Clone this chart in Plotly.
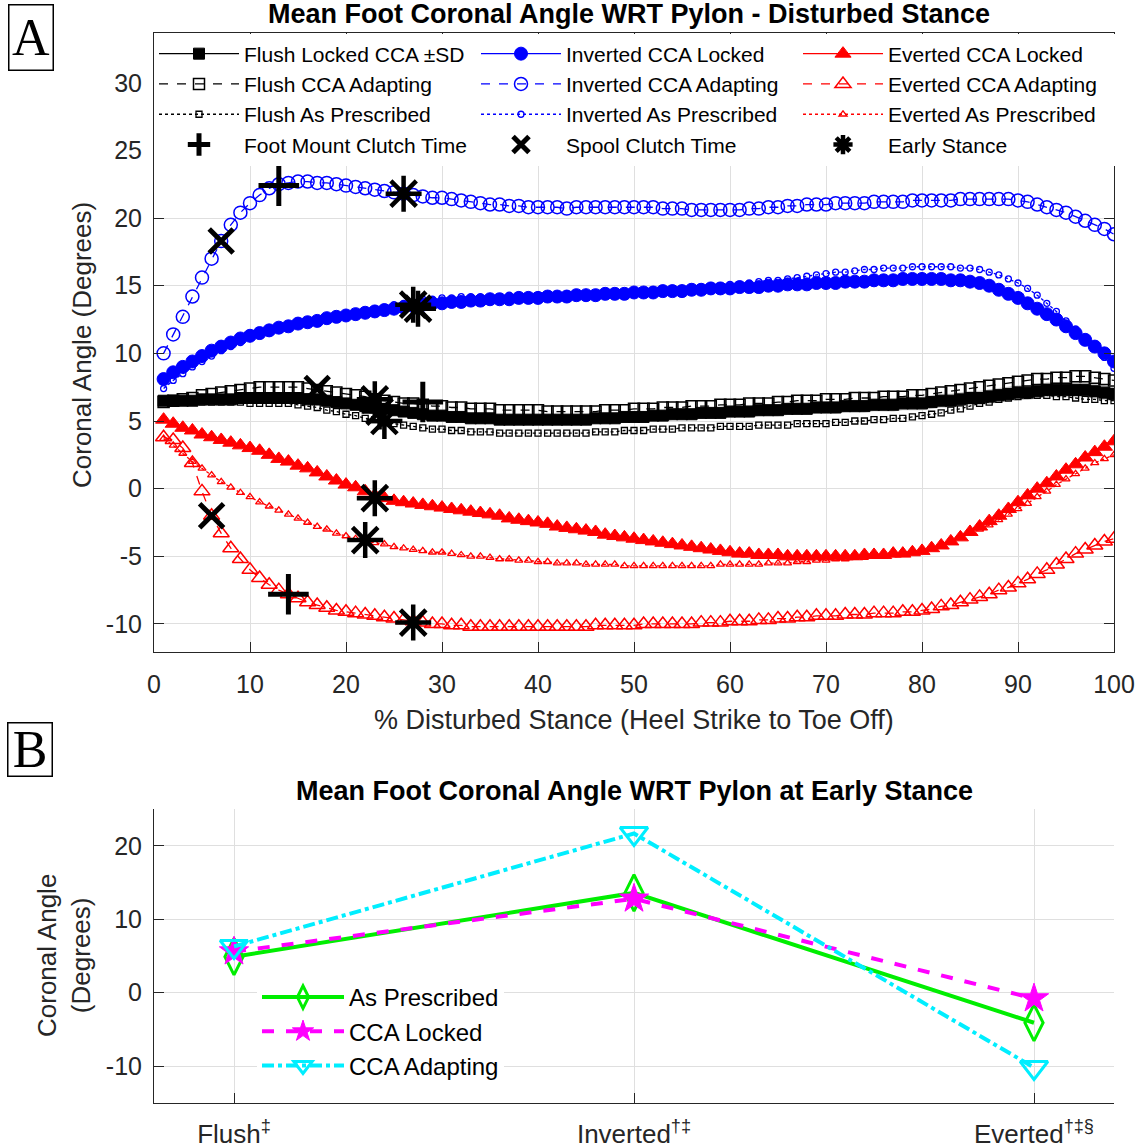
import plotly.graph_objects as go

# ---------------- DATA ----------------
pct_stance = list(range(1, 101))
x_ticks_a = [0, 10, 20, 30, 40, 50, 60, 70, 80, 90, 100]
y_ticks_a = [-10, -5, 0, 5, 10, 15, 20, 25, 30]

flush_locked = [
    6.5, 6.5, 6.5, 6.5, 6.6, 6.6, 6.6, 6.6, 6.7, 6.7,
    6.7, 6.7, 6.7, 6.7, 6.7, 6.6, 6.6, 6.5, 6.4, 6.3,
    6.2, 6.1, 6.0, 5.9, 5.8, 5.7, 5.6, 5.5, 5.4, 5.4,
    5.3, 5.3, 5.2, 5.2, 5.2, 5.1, 5.1, 5.1, 5.1, 5.1,
    5.1, 5.1, 5.1, 5.1, 5.1, 5.2, 5.2, 5.2, 5.3, 5.3,
    5.3, 5.4, 5.4, 5.5, 5.5, 5.5, 5.6, 5.6, 5.6, 5.7,
    5.7, 5.7, 5.8, 5.8, 5.8, 5.9, 5.9, 5.9, 6.0, 6.0,
    6.0, 6.1, 6.1, 6.1, 6.2, 6.2, 6.2, 6.3, 6.3, 6.3,
    6.4, 6.5, 6.5, 6.6, 6.7, 6.7, 6.8, 6.9, 7.0, 7.1,
    7.1, 7.2, 7.3, 7.3, 7.3, 7.3, 7.3, 7.2, 7.1, 7.0]

flush_locked_sd = [
    0.25, 0.25, 0.25, 0.26, 0.26, 0.27, 0.27, 0.28, 0.28, 0.29,
    0.29, 0.30, 0.30, 0.30, 0.31, 0.31, 0.32, 0.32, 0.33, 0.33,
    0.34, 0.34, 0.35, 0.35, 0.35, 0.36, 0.36, 0.36, 0.37, 0.37,
    0.37, 0.38, 0.38, 0.38, 0.38, 0.39, 0.39, 0.39, 0.39, 0.40,
    0.40, 0.40, 0.40, 0.40, 0.41, 0.41, 0.41, 0.41, 0.41, 0.42,
    0.42, 0.42, 0.42, 0.42, 0.43, 0.43, 0.43, 0.43, 0.43, 0.44,
    0.44, 0.44, 0.44, 0.45, 0.45, 0.45, 0.46, 0.46, 0.46, 0.47,
    0.47, 0.47, 0.48, 0.48, 0.48, 0.49, 0.49, 0.50, 0.50, 0.50,
    0.51, 0.51, 0.52, 0.52, 0.52, 0.53, 0.53, 0.53, 0.54, 0.54,
    0.54, 0.54, 0.55, 0.55, 0.55, 0.55, 0.55, 0.55, 0.55, 0.55]

flush_adapting = [
    6.4, 6.5, 6.6, 6.7, 6.9, 7.0, 7.1, 7.2, 7.3, 7.4,
    7.5, 7.5, 7.5, 7.5, 7.5, 7.4, 7.3, 7.2, 7.1, 7.0,
    6.9, 6.8, 6.6, 6.5, 6.4, 6.3, 6.3, 6.2, 6.1, 6.1,
    6.0, 6.0, 5.9, 5.9, 5.9, 5.8, 5.8, 5.8, 5.8, 5.8,
    5.7, 5.7, 5.7, 5.7, 5.7, 5.7, 5.8, 5.8, 5.8, 5.9,
    5.9, 5.9, 6.0, 6.0, 6.0, 6.1, 6.1, 6.1, 6.2, 6.2,
    6.2, 6.3, 6.3, 6.3, 6.4, 6.4, 6.5, 6.5, 6.5, 6.6,
    6.6, 6.6, 6.7, 6.7, 6.7, 6.8, 6.8, 6.8, 6.9, 6.9,
    7.0, 7.1, 7.2, 7.3, 7.4, 7.5, 7.6, 7.7, 7.8, 7.9,
    8.0, 8.1, 8.1, 8.2, 8.2, 8.3, 8.3, 8.2, 8.1, 8.0]

flush_prescribed = [
    6.4, 6.4, 6.4, 6.4, 6.4, 6.4, 6.4, 6.4, 6.4, 6.3,
    6.3, 6.3, 6.3, 6.3, 6.2, 6.1, 6.0, 5.8, 5.7, 5.5,
    5.4, 5.2, 5.1, 5.0, 4.8, 4.7, 4.6, 4.5, 4.4, 4.4,
    4.3, 4.3, 4.2, 4.2, 4.2, 4.1, 4.1, 4.1, 4.1, 4.1,
    4.1, 4.1, 4.1, 4.1, 4.1, 4.2, 4.2, 4.2, 4.3, 4.3,
    4.3, 4.4, 4.4, 4.4, 4.5, 4.5, 4.5, 4.5, 4.6, 4.6,
    4.6, 4.6, 4.7, 4.7, 4.7, 4.7, 4.8, 4.8, 4.8, 4.8,
    4.9, 4.9, 5.0, 5.0, 5.1, 5.1, 5.2, 5.2, 5.3, 5.4,
    5.5, 5.6, 5.8, 5.9, 6.1, 6.3, 6.4, 6.6, 6.7, 6.8,
    6.9, 6.9, 6.9, 6.8, 6.8, 6.7, 6.6, 6.6, 6.5, 6.5]

inverted_locked = [
    8.1, 8.6, 9.0, 9.4, 9.8, 10.2, 10.5, 10.8, 11.1, 11.3,
    11.5, 11.7, 11.9, 12.0, 12.2, 12.3, 12.4, 12.6, 12.7, 12.8,
    12.9, 13.0, 13.1, 13.2, 13.3, 13.4, 13.5, 13.6, 13.7, 13.7,
    13.8, 13.8, 13.9, 13.9, 14.0, 14.0, 14.0, 14.1, 14.1, 14.1,
    14.2, 14.2, 14.2, 14.3, 14.3, 14.3, 14.4, 14.4, 14.4, 14.5,
    14.5, 14.5, 14.6, 14.6, 14.6, 14.7, 14.7, 14.8, 14.8, 14.8,
    14.9, 14.9, 14.9, 15.0, 15.0, 15.1, 15.1, 15.1, 15.2, 15.2,
    15.2, 15.3, 15.3, 15.3, 15.4, 15.4, 15.4, 15.5, 15.5, 15.5,
    15.5, 15.5, 15.4, 15.4, 15.3, 15.2, 15.0, 14.7, 14.4, 14.1,
    13.7, 13.3, 12.9, 12.5, 12.0, 11.5, 11.0, 10.5, 10.0, 9.4]

inverted_adapting = [
    10.0, 11.4, 12.7, 14.2, 15.6, 17.0, 18.3, 19.5, 20.4, 21.1,
    21.7, 22.2, 22.5, 22.6, 22.7, 22.7, 22.6, 22.6, 22.5, 22.4,
    22.3, 22.2, 22.1, 22.0, 21.9, 21.8, 21.7, 21.6, 21.5, 21.5,
    21.4, 21.3, 21.2, 21.1, 21.0, 21.0, 20.9, 20.9, 20.8, 20.8,
    20.8, 20.8, 20.7, 20.8, 20.8, 20.8, 20.8, 20.8, 20.8, 20.8,
    20.8, 20.8, 20.7, 20.7, 20.7, 20.6, 20.6, 20.6, 20.6, 20.6,
    20.6, 20.7, 20.7, 20.8, 20.8, 20.9, 20.9, 21.0, 21.0, 21.0,
    21.1, 21.1, 21.1, 21.1, 21.2, 21.2, 21.2, 21.2, 21.3, 21.3,
    21.3, 21.3, 21.3, 21.4, 21.4, 21.4, 21.4, 21.4, 21.4, 21.3,
    21.2, 21.0, 20.8, 20.6, 20.4, 20.1, 19.8, 19.5, 19.2, 18.8]

inverted_prescribed = [
    7.4, 8.0, 8.5, 9.0, 9.4, 9.8, 10.2, 10.5, 10.8, 11.1,
    11.3, 11.5, 11.7, 11.9, 12.1, 12.3, 12.4, 12.6, 12.7, 12.9,
    13.0, 13.1, 13.3, 13.4, 13.6, 13.7, 13.8, 14.0, 14.0, 14.1,
    14.1, 14.2, 14.2, 14.2, 14.2, 14.2, 14.3, 14.3, 14.3, 14.3,
    14.3, 14.3, 14.4, 14.4, 14.4, 14.4, 14.5, 14.5, 14.5, 14.6,
    14.6, 14.7, 14.7, 14.8, 14.8, 14.9, 14.9, 15.0, 15.0, 15.1,
    15.1, 15.2, 15.3, 15.4, 15.4, 15.5, 15.6, 15.7, 15.8, 15.9,
    16.0, 16.0, 16.1, 16.2, 16.2, 16.3, 16.3, 16.3, 16.4, 16.4,
    16.4, 16.4, 16.4, 16.3, 16.3, 16.2, 16.0, 15.8, 15.5, 15.2,
    14.8, 14.3, 13.7, 13.1, 12.4, 11.8, 11.1, 10.4, 9.7, 8.9]

everted_locked = [
    5.1, 4.8, 4.5, 4.3, 4.0, 3.8, 3.6, 3.4, 3.2, 3.0,
    2.8, 2.5, 2.2, 2.0, 1.7, 1.5, 1.2, 0.9, 0.6, 0.3,
    0.1, -0.2, -0.5, -0.7, -0.9, -1.0, -1.1, -1.2, -1.3, -1.4,
    -1.5, -1.6, -1.7, -1.8, -1.9, -2.0, -2.2, -2.3, -2.4, -2.5,
    -2.6, -2.8, -2.9, -3.0, -3.1, -3.2, -3.4, -3.5, -3.6, -3.7,
    -3.8, -3.9, -4.0, -4.1, -4.2, -4.3, -4.4, -4.5, -4.6, -4.7,
    -4.8, -4.8, -4.9, -4.9, -4.9, -5.0, -5.0, -5.0, -5.0, -5.0,
    -5.0, -5.0, -5.0, -4.9, -4.9, -4.9, -4.8, -4.8, -4.7, -4.6,
    -4.4, -4.2, -3.9, -3.6, -3.2, -2.8, -2.4, -2.0, -1.5, -1.0,
    -0.5, 0.0, 0.4, 0.9, 1.4, 1.8, 2.3, 2.7, 3.1, 3.5]

everted_adapting = [
    3.8, 3.6, 3.0, 1.9, -0.2, -2.0, -3.3, -4.4, -5.2, -6.0,
    -6.6, -7.1, -7.5, -7.8, -8.1, -8.4, -8.6, -8.8, -9.0, -9.1,
    -9.2, -9.3, -9.4, -9.5, -9.6, -9.7, -9.8, -9.9, -10.0, -10.0,
    -10.1, -10.1, -10.2, -10.2, -10.2, -10.2, -10.2, -10.2, -10.2, -10.2,
    -10.2, -10.2, -10.2, -10.2, -10.2, -10.1, -10.1, -10.1, -10.1, -10.1,
    -10.0, -10.0, -10.0, -10.0, -10.0, -10.0, -9.9, -9.9, -9.9, -9.8,
    -9.8, -9.8, -9.7, -9.7, -9.6, -9.6, -9.5, -9.5, -9.4, -9.4,
    -9.4, -9.3, -9.3, -9.3, -9.2, -9.2, -9.2, -9.1, -9.1, -9.0,
    -8.9, -8.7, -8.6, -8.4, -8.2, -8.0, -7.8, -7.5, -7.3, -7.0,
    -6.7, -6.3, -6.0, -5.6, -5.2, -4.8, -4.5, -4.2, -3.9, -3.7]

everted_prescribed = [
    3.7, 3.2, 2.6, 2.0, 1.5, 1.0, 0.5, 0.1, -0.3, -0.6,
    -1.0, -1.3, -1.6, -1.9, -2.2, -2.5, -2.8, -3.0, -3.3, -3.5,
    -3.7, -3.9, -4.0, -4.1, -4.3, -4.4, -4.5, -4.6, -4.7, -4.7,
    -4.8, -4.9, -5.0, -5.0, -5.1, -5.2, -5.2, -5.3, -5.3, -5.4,
    -5.4, -5.5, -5.5, -5.5, -5.6, -5.6, -5.6, -5.6, -5.7, -5.7,
    -5.7, -5.7, -5.7, -5.7, -5.7, -5.7, -5.7, -5.7, -5.6, -5.6,
    -5.6, -5.6, -5.6, -5.5, -5.5, -5.5, -5.4, -5.4, -5.3, -5.3,
    -5.2, -5.2, -5.1, -5.1, -5.0, -5.0, -4.9, -4.8, -4.7, -4.6,
    -4.4, -4.2, -3.9, -3.6, -3.3, -3.0, -2.7, -2.3, -1.9, -1.5,
    -1.1, -0.6, -0.2, 0.3, 0.7, 1.1, 1.5, 1.9, 2.2, 2.5]

foot_mount_x = [13, 28, 14]
foot_mount_y = [22.4, 6.4, -7.8]
spool_x = [7, 17, 6]
spool_y = [18.3, 7.4, -2.0]
early_x = [26, 27, 27.5, 23, 23.5, 24, 23, 22, 27]
early_y = [21.8, 13.6, 13.3, 6.6, 5.7, 5.0, -0.7, -3.8, -9.9]

# Panel B
conditions = ["Flush", "Inverted", "Everted"]
condition_marks = ["‡", "†‡", "†‡§"]
cond_pos = [1, 2, 3]
early_prescribed = [4.9, 13.6, -4.1]
early_locked = [5.6, 12.8, -0.8]
early_adapting = [6.3, 21.7, -10.2]
y_ticks_b = [-10, 0, 10, 20]

# ---------------- LAYOUT HELPERS ----------------
W, H = 1140, 1148
def fx(p):
    return p / W
def fy(p):
    return 1 - p / H

FONT = "Liberation Sans, Arial, sans-serif"
SERIF = "Liberation Serif, Times New Roman, serif"
AXC = "#262626"
GRID = "#dfdfdf"

fig = go.Figure()

# SD band
upper = [m + s for m, s in zip(flush_locked, flush_locked_sd)]
lower = [m - s for m, s in zip(flush_locked, flush_locked_sd)]
fig.add_trace(go.Scatter(
    x=pct_stance + pct_stance[::-1], y=upper + lower[::-1],
    fill="toself", fillcolor="#c6c6c6", line=dict(width=0),
    mode="lines", showlegend=False, hoverinfo="skip"))

series = [
    ("Flush Locked CCA ±SD", flush_locked, "black", "solid", "square", 11, 1.0, 1),
    ("Flush CCA Adapting", flush_adapting, "black", "dash", "square-open", 11, 1.5, 4),
    ("Flush As Prescribed", flush_prescribed, "black", "dot", "square-open", 6, 1.3, 7),
    ("Inverted CCA Locked", inverted_locked, "#0000ff", "solid", "circle", 13, 1.0, 2),
    ("Inverted CCA Adapting", inverted_adapting, "#0000ff", "dash", "circle-open", 13, 1.5, 5),
    ("Inverted As Prescribed", inverted_prescribed, "#0000ff", "dot", "circle-open", 6, 1.3, 8),
    ("Everted CCA Locked", everted_locked, "#ff0000", "solid", "triangle-up", 14, 1.0, 3),
    ("Everted CCA Adapting", everted_adapting, "#ff0000", "dash", "triangle-up-open", 14, 1.5, 6),
    ("Everted As Prescribed", everted_prescribed, "#ff0000", "dot", "triangle-up-open", 7, 1.3, 9),
]
for name, yv, col, dash, sym, size, lw, rank in series:
    fig.add_trace(go.Scatter(
        x=pct_stance, y=yv, name=name, mode="lines+markers",
        line=dict(color=col, width=1.3, dash=dash),
        marker=dict(symbol=sym, size=size, color=col, line=dict(color=col, width=lw)),
        legendrank=rank, legend="legend"))

fig.add_trace(go.Scatter(
    x=foot_mount_x, y=foot_mount_y, name="Foot Mount Clutch Time", mode="markers",
    marker=dict(symbol="cross-thin", size=29, color="black", line=dict(color="black", width=5)),
    legendrank=10, legend="legend"))
fig.add_trace(go.Scatter(
    x=spool_x, y=spool_y, name="Spool Clutch Time", mode="markers",
    marker=dict(symbol="x-thin", size=24, color="black", line=dict(color="black", width=5)),
    legendrank=11, legend="legend"))
fig.add_trace(go.Scatter(
    x=early_x, y=early_y, name="Early Stance", mode="markers",
    marker=dict(symbol="asterisk", size=30, color="black", line=dict(color="black", width=4.5)),
    legendrank=12, legend="legend"))

# Panel B
b_series = [
    ("As Prescribed", early_prescribed, "#00ee00", "solid", "diamond-tall-open", 26, 3),
    ("CCA Locked", early_locked, "#ff00ff", "dash", "star", 22, 1),
    ("CCA Adapting", early_adapting, "#00eeff", "dashdot", "triangle-down-open", 24, 3),
]
for i, (name, yv, col, dash, sym, size, mlw) in enumerate(b_series):
    fig.add_trace(go.Scatter(
        x=cond_pos, y=yv, name=name, mode="lines+markers",
        line=dict(color=col, width=4, dash=dash),
        marker=dict(symbol=sym, size=size, color=col, line=dict(color=col, width=mlw)),
        xaxis="x2", yaxis="y2", legend="legend2", legendrank=20 + i))

tick_font = dict(family=FONT, size=25, color=AXC)

fig.update_layout(
    width=W, height=H,
    margin=dict(l=0, r=0, t=0, b=0, pad=0, autoexpand=False),
    paper_bgcolor="white", plot_bgcolor="white",
    showlegend=True,
    xaxis=dict(
        domain=[fx(154), fx(1114)], anchor="y", range=[0, 100],
        tickvals=x_ticks_a, ticktext=[str(v) for v in x_ticks_a],
        showline=True, linecolor=AXC, linewidth=1, mirror="ticks",
        ticks="inside", ticklen=10, tickcolor=AXC, tickwidth=1,
        showgrid=True, gridcolor=GRID, gridwidth=1, zeroline=False,
        tickfont=tick_font, ticklabelstandoff=10, automargin=False),
    yaxis=dict(
        domain=[fy(651.7), fy(32.7)], anchor="x", range=[-12.05, 33.7],
        tickvals=y_ticks_a, ticktext=[str(v) for v in y_ticks_a],
        showline=True, linecolor=AXC, linewidth=1, mirror="ticks",
        ticks="inside", ticklen=10, tickcolor=AXC, tickwidth=1,
        showgrid=True, gridcolor=GRID, gridwidth=1, zeroline=False,
        tickfont=tick_font, ticklabelstandoff=6, automargin=False),
    xaxis2=dict(
        domain=[fx(154), fx(1114)], anchor="y2", range=[0.8, 3.2],
        tickvals=cond_pos,
        ticktext=[c + "<sup>" + m + "</sup>" for c, m in zip(conditions, condition_marks)],
        showline=True, linecolor=AXC, linewidth=1, mirror=False,
        ticks="inside", ticklen=10, tickcolor=AXC, tickwidth=1,
        showgrid=True, gridcolor=GRID, gridwidth=1, zeroline=False,
        tickfont=dict(family=FONT, size=26, color=AXC), ticklabelstandoff=8,
        automargin=False),
    yaxis2=dict(
        domain=[fy(1102.7), fy(809.3)], anchor="x2", range=[-15, 25],
        tickvals=y_ticks_b, ticktext=[str(v) for v in y_ticks_b],
        showline=True, linecolor=AXC, linewidth=1, mirror=False,
        ticks="inside", ticklen=10, tickcolor=AXC, tickwidth=1,
        showgrid=True, gridcolor=GRID, gridwidth=1, zeroline=False,
        tickfont=tick_font, ticklabelstandoff=6, automargin=False),
    legend=dict(
        x=fx(154), y=fy(33.5), xanchor="left", yanchor="top",
        orientation="h", bgcolor="white", borderwidth=0,
        font=dict(family=FONT, size=21, color="black"),
        itemwidth=80, entrywidth=227, entrywidthmode="pixels",
        traceorder="normal", itemsizing="trace", itemclick=False),
    legend2=dict(
        x=fx(257), y=fy(975), xanchor="left", yanchor="top",
        orientation="v", bgcolor="white", borderwidth=0,
        font=dict(family=FONT, size=24, color="black"),
        itemwidth=82, traceorder="normal", itemsizing="trace"),
)

annotations = [
    dict(text="<b>Mean Foot Coronal Angle WRT Pylon - Disturbed Stance</b>",
         x=fx(629), y=fy(14), font=dict(family=FONT, size=27, color="black")),
    dict(text="% Disturbed Stance (Heel Strike to Toe Off)",
         x=fx(634), y=fy(720), font=dict(family=FONT, size=27, color=AXC)),
    dict(text="Coronal Angle (Degrees)", textangle=-90,
         x=fx(82), y=fy(345), font=dict(family=FONT, size=26, color=AXC)),
    dict(text="<b>Mean Foot Coronal Angle WRT Pylon at Early Stance</b>",
         x=fx(634), y=fy(791), font=dict(family=FONT, size=27, color="black")),
    dict(text="Coronal Angle<br>(Degrees)", textangle=-90,
         x=fx(64), y=fy(956), font=dict(family=FONT, size=26, color=AXC)),
    dict(text="A", x=fx(30.5), y=fy(38), width=43, height=64,
         bordercolor="black", borderwidth=1.5, borderpad=0,
         font=dict(family=SERIF, size=52, color="black")),
    dict(text="B", x=fx(29.5), y=fy(749), width=43, height=52,
         bordercolor="black", borderwidth=1.5, borderpad=0,
         font=dict(family=SERIF, size=52, color="black")),
]
for a in annotations:
    a.update(xref="paper", yref="paper", showarrow=False, xanchor="center", yanchor="middle")
fig.update_layout(annotations=annotations)

fig.write_html(
    "out.html",
    post_script="document.body.style.margin='0';document.body.style.padding='0';"
                "document.documentElement.style.overflow='hidden';")
